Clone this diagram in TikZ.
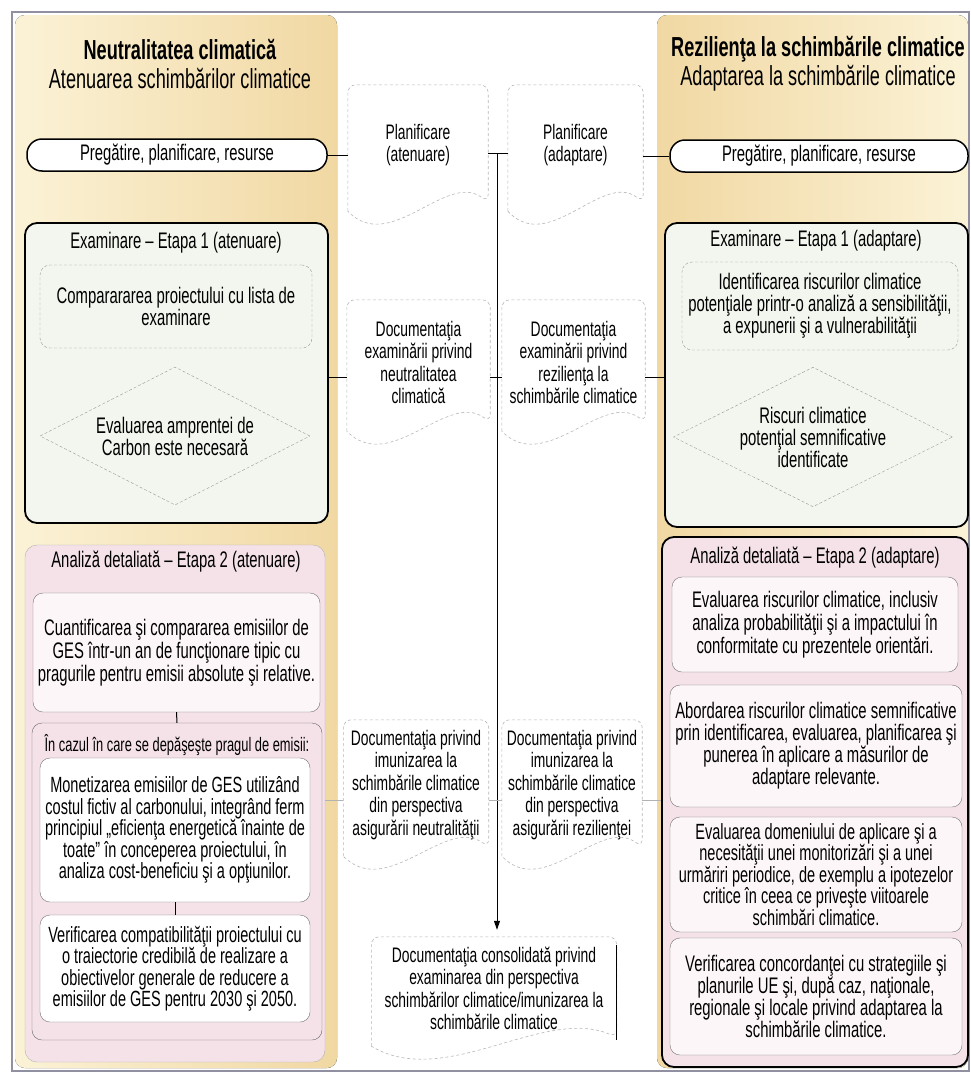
\documentclass[tikz,border=0pt]{standalone}
\usepackage{fontspec}
\setmainfont{Liberation Sans}[FakeStretch=0.66]
\usetikzlibrary{arrows.meta,positioning,shapes.geometric,calc}

\definecolor{sandpale}{HTML}{FBF2D6}
\definecolor{sandtan}{HTML}{F1D8A3}
\definecolor{examfill}{HTML}{F3F6EE}
\definecolor{anafill}{HTML}{F5E2E9}
\definecolor{itemfill}{HTML}{FCF6F8}
\definecolor{framegray}{HTML}{9090A0}

% outline of a document sheet round a node, wavy lower edge
\newcommand{\docoutline}[1]{%
  \draw[docline] ($(#1.south west)+(0,6)$) -- (#1.north west) -- (#1.north east) -- ($(#1.south east)+(0,-3)$)
    .. controls ($(#1.south east)!0.3!(#1.south west)+(0,-34)$) and ($(#1.south east)!0.7!(#1.south west)+(0,50)$) .. ($(#1.south west)+(0,6)$);}

\begin{document}
\begin{tikzpicture}[
  x=1pt,y=-1pt,
  every node/.style={align=center,inner sep=0pt,font=\fontsize{22.5}{22}\selectfont},
  bigtitle/.style={font=\fontsize{27.5}{29}\selectfont},
  pill/.style={draw,line width=1.5pt,rounded corners=15pt,fill=white,minimum height=32pt},
  stagebox/.style={draw,line width=1.8pt,rounded corners=12pt,fill=examfill},
  anabox/.style={rounded corners=12pt,fill=anafill},
  itembox/.style={draw=black!55,thin,rounded corners=10pt,fill=itemfill},
  tightbox/.style={itembox,font=\fontsize{22}{21.5}\selectfont},
  dashbox/.style={draw=black!40,dash pattern=on 3pt off 2pt,rounded corners=10pt},
  decision/.style={draw=black!40,dash pattern=on 3pt off 2pt,diamond,aspect=2,inner sep=2pt},
  docnode/.style={font=\fontsize{21}{22.5}\selectfont},
  docline/.style={draw=black!28,dash pattern=on 3pt off 2.5pt,line width=0.6pt,rounded corners=8pt},
  tick/.style={line width=1pt},
  faint/.style={black!30,line width=0.8pt},
  arr/.style={-{Triangle[length=9pt,width=6pt]},line width=1pt}
]
\useasboundingbox (0,0) rectangle (970,1079);
\fill[white] (0,0) rectangle (970,1079);

% column backgrounds and frame
\fill[left color=sandpale,right color=sandtan,rounded corners=10pt] (15,15) rectangle (337,1068);
\fill[left color=sandtan,right color=sandpale,rounded corners=10pt] (657,15) rectangle (968,1068);
\draw[framegray,line width=2.5pt] (12,12) rectangle (969,1071);

% titles
\node[bigtitle] (ltitle) at (180,64) {\textbf{Neutralitatea climatică}\\Atenuarea schimbărilor climatice};
\node[bigtitle] (rtitle) at (818,64) {\textbf{Rezilienţa la schimbările climatice}\\Adaptarea la schimbările climatice};

% preparation
\node[pill,minimum width=300pt] (lprep) at (177,155) {Pregătire, planificare, resurse};
\node[pill,minimum width=298pt] (rprep) at (819,156) {Pregătire, planificare, resurse};

% screening, mitigation
\node[stagebox,minimum width=303pt,minimum height=300pt] (lexam) at (176.5,373) {};
\node (lexamt) at (176,243) {Examinare – Etapa 1 (atenuare)};
\node[dashbox,minimum width=272pt,minimum height=83pt] (lcheck) at (176,306.5) {Comparararea proiectului cu lista de\\examinare};
\node[decision,minimum width=270pt,minimum height=138pt] (lcarbon) at (175,436) {Evaluarea amprentei de\\Carbon este necesară};

% screening, adaptation
\node[stagebox,minimum width=303pt,minimum height=304pt] (rexam) at (816.5,375) {};
\node (rexamt) at (816,241) {Examinare – Etapa 1 (adaptare)};
\node[dashbox,minimum width=276pt,minimum height=88pt] (rrisk) at (820,306) {Identificarea riscurilor climatice\\potenţiale printr-o analiză a sensibilităţii,\\a expunerii şi a vulnerabilităţii};
\node[decision,minimum width=270pt,minimum height=139pt] (rsignif) at (813,437) {Riscuri climatice\\potenţial semnificative\\identificate};

% detailed analysis, mitigation
\node[anabox,draw=black!30,thin,minimum width=300pt,minimum height=517pt] (lana) at (175,803.5) {};
\node (lanat) at (176,562) {Analiză detaliată – Etapa 2 (atenuare)};
\node[itembox,minimum width=287pt,minimum height=119pt,font=\fontsize{22.5}{23}\selectfont] (lquant) at (176.5,652.5) {Cuantificarea şi compararea emisiilor de\\GES într-un an de funcţionare tipic cu\\pragurile pentru emisii absolute şi relative.};
\node[itembox,draw=black!60,fill=none,minimum width=290pt,minimum height=317pt] (lexceed) at (177,881.5) {};
\node[font=\fontsize{19.5}{20}\selectfont] (lexceedt) at (177,745) {În cazul în care se depăşeşte pragul de emisii:};
\node[tightbox,fill=white,minimum width=270pt,minimum height=144pt] (lmonet) at (175,830) {Monetizarea emisiilor de GES utilizând\\costul fictiv al carbonului, integrând ferm\\principiul „eficienţa energetică înainte de\\toate” în conceperea proiectului, în\\analiza cost-beneficiu şi a opţiunilor.};
\node[tightbox,fill=white,minimum width=270pt,minimum height=107pt] (lverif) at (175,968.5) {Verificarea compatibilităţii proiectului cu\\o traiectorie credibilă de realizare a\\obiectivelor generale de reducere a\\emisiilor de GES pentru 2030 şi 2050.};
\draw[tick] (lquant.south) -- (lexceed.north);
\draw[tick] (lmonet.south) -- (lverif.north);

% detailed analysis, adaptation
\node[stagebox,fill=anafill,minimum width=306pt,minimum height=530pt] (rana) at (815,802) {};
\node (ranat) at (815,558) {Analiză detaliată – Etapa 2 (adaptare)};
\node[itembox,minimum width=286pt,minimum height=95pt,font=\fontsize{22.5}{23}\selectfont] (rassess) at (815,624.5) {Evaluarea riscurilor climatice, inclusiv\\analiza probabilităţii şi a impactului în\\conformitate cu prezentele orientări.};
\node[itembox,minimum width=292pt,minimum height=122pt] (raddress) at (816,746) {Abordarea riscurilor climatice semnificative\\prin identificarea, evaluarea, planificarea şi\\punerea în aplicare a măsurilor de\\adaptare relevante.};
\node[tightbox,minimum width=292pt,minimum height=115pt] (rmonit) at (816,874.5) {Evaluarea domeniului de aplicare şi a\\necesităţii unei monitorizări şi a unei\\urmăriri periodice, de exemplu a ipotezelor\\critice în ceea ce priveşte viitoarele\\schimbări climatice.};
\node[itembox,minimum width=292pt,minimum height=117pt] (rplans) at (816,996.5) {Verificarea concordanţei cu strategiile şi\\planurile UE şi, după caz, naţionale,\\regionale şi locale privind adaptarea la\\schimbările climatice.};

% documentation in the middle
\node[docnode,minimum width=140pt,minimum height=120pt] (dplanl) at (418,145) {Planificare\\(atenuare)};
\node[docnode,minimum width=135pt,minimum height=120pt] (dplanr) at (575.5,145) {Planificare\\(adaptare)};
\node[docnode,minimum width=143pt,minimum height=125pt] (dexaml) at (418.5,362.5) {Documentaţia\\examinării privind\\neutralitatea\\climatică};
\node[docnode,minimum width=143pt,minimum height=125pt] (dexamr) at (573.5,362.5) {Documentaţia\\examinării privind\\rezilienţa la\\schimbările climatice};
\node[docnode,minimum width=145pt,minimum height=130pt] (dimunl) at (416,785) {Documentaţia privind\\imunizarea la\\schimbările climatice\\din perspectiva\\asigurării neutralităţii};
\node[docnode,minimum width=140pt,minimum height=130pt] (dimunr) at (572,785) {Documentaţia privind\\imunizarea la\\schimbările climatice\\din perspectiva\\asigurării rezilienţei};
\node[docnode,minimum width=245pt,minimum height=103pt] (dcons) at (494,988.5) {Documentaţia consolidată privind\\examinarea din perspectiva\\schimbărilor climatice/imunizarea la\\schimbările climatice};
\docoutline{dplanl}
\docoutline{dplanr}
\docoutline{dexaml}
\docoutline{dexamr}
\docoutline{dimunl}
\docoutline{dimunr}
\docoutline{dcons}
\draw[tick] ($(dcons.north east)+(0,8)$) -- (dcons.south east);

% connectors
\coordinate (spine) at (497,153);
\coordinate (row2) at (497,377);
\coordinate (row3) at (497,800);
\draw[arr,shorten >=7pt] (spine) -- (spine |- dcons.north);
\draw[tick] (lprep.east) -- (lprep.east -| dplanl.west);
\draw[tick] (dplanl.east |- spine) -- (dplanr.west |- spine);
\draw[tick] (rprep.west) -- (rprep.west -| dplanr.east);
\draw[tick] (lexam.east |- row2) -- (dexaml.west |- row2);
\draw[tick] (dexaml.east |- row2) -- (dexamr.west |- row2);
\draw[tick] (dexamr.east |- row2) -- (rexam.west |- row2);
\draw[faint] (lana.east |- row3) -- (dimunl.west |- row3);
\draw[faint] (dimunl.east |- row3) -- (dimunr.west |- row3);
\draw[faint] (dimunr.east |- row3) -- (rana.west |- row3);
\end{tikzpicture}
\end{document}
